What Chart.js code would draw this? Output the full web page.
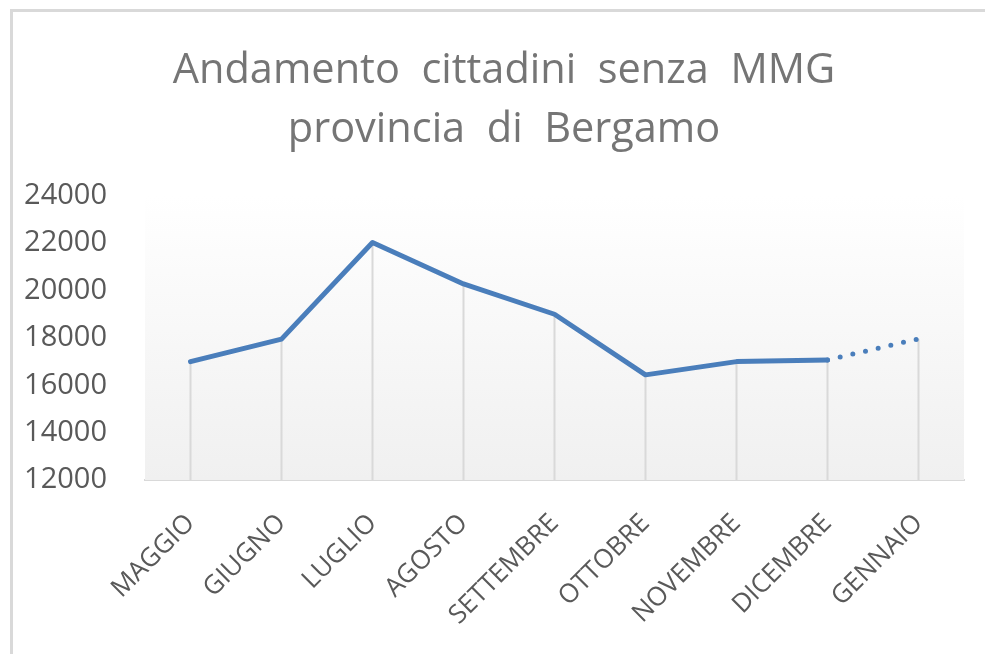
<!DOCTYPE html>
<html>
<head>
<meta charset="utf-8">
<script src="https://cdn.jsdelivr.net/npm/chart.js@4.4.0/dist/chart.umd.min.js"></script>
<style>
    html, body { margin: 0; padding: 0; background: #fff; }
    .wrap { position: relative; width: 985px; height: 654px; }
    .frame { position: absolute; left: 10px; top: 9px; right: 0; bottom: 0; border-left: 3px solid #d9d9d9; border-top: 3px solid #d9d9d9; pointer-events: none; }
</style>
</head>
<body>
<div class="wrap">
    <canvas id="chart" width="985" height="654"></canvas>
    <div class="frame"></div>
</div>
<script>
// Data
const months = ['MAGGIO', 'GIUGNO', 'LUGLIO', 'AGOSTO', 'SETTEMBRE', 'OTTOBRE', 'NOVEMBRE', 'DICEMBRE', 'GENNAIO'];
const cittadini = [17000, 17950, 22030, 20280, 19000, 16440, 17000, 17070, 17960];
const titleLines = ['Andamento  cittadini  senza  MMG', 'provincia  di  Bergamo'];
const yMin = 12000;
const yMax = 24000;
const yStep = 2000;

// Plot area gradient + vertical drop lines
const plotDecor = {
    id: 'plotDecor',
    afterLayout(chart) {
        // title is centred a bit right of the canvas middle
        if (chart.titleBlock) {
            chart.titleBlock.left += 22;
            chart.titleBlock.right += 22;
        }
    },
    beforeDatasetsDraw(chart) {
        const ctx = chart.ctx;
        const area = chart.chartArea;
        const g = ctx.createLinearGradient(0, area.top, 0, area.bottom);
        g.addColorStop(0, '#ffffff');
        g.addColorStop(1, '#f0f0f0');
        ctx.save();
        ctx.fillStyle = g;
        ctx.fillRect(area.left, area.top, area.right - area.left, area.bottom - area.top);

        const meta = chart.getDatasetMeta(0);
        ctx.strokeStyle = '#d9d9d9';
        ctx.lineWidth = 2;
        meta.data.forEach(pt => {
            ctx.beginPath();
            ctx.moveTo(pt.x, pt.y);
            ctx.lineTo(pt.x, area.bottom);
            ctx.stroke();
        });
        ctx.restore();
    }
};

const ctx = document.getElementById('chart').getContext('2d');
new Chart(ctx, {
    type: 'line',
    data: {
        labels: months,
        datasets: [{
            data: cittadini,
            borderColor: '#4a7ebb',
            borderWidth: 5,
            borderCapStyle: 'round',
            borderJoinStyle: 'round',
            pointRadius: 0,
            tension: 0,
            segment: {
                borderDash: c => c.p1DataIndex === months.length - 1 ? [0, 13] : undefined
            }
        }]
    },
    options: {
        responsive: false,
        animation: false,
        layout: { padding: { left: 0, right: 21, top: 42, bottom: 0 } },
        plugins: {
            legend: { display: false },
            tooltip: { enabled: false },
            title: {
                display: true,
                text: titleLines,
                color: '#757575',
                font: { family: 'Open Sans', size: 41.5, weight: 'normal', lineHeight: 1.42 },
                padding: { top: 0, bottom: 36 }
            }
        },
        scales: {
            x: {
                offset: true,
                grid: { display: false },
                border: { display: true, color: '#d9d9d9', width: 2 },
                ticks: {
                    color: '#595959',
                    font: { family: 'Open Sans', size: 26 },
                    minRotation: 45,
                    maxRotation: 45,
                    padding: 20
                },
                afterFit(scale) { scale.height = 174; }
            },
            y: {
                min: yMin,
                max: yMax,
                grid: { display: false },
                border: { display: false },
                ticks: {
                    stepSize: yStep,
                    color: '#595959',
                    font: { family: 'Open Sans', size: 29 },
                    padding: 30,
                    callback: v => String(v)
                },
                afterFit(scale) { scale.width = 145; }
            }
        }
    },
    plugins: [plotDecor]
});
</script>
</body>
</html>
